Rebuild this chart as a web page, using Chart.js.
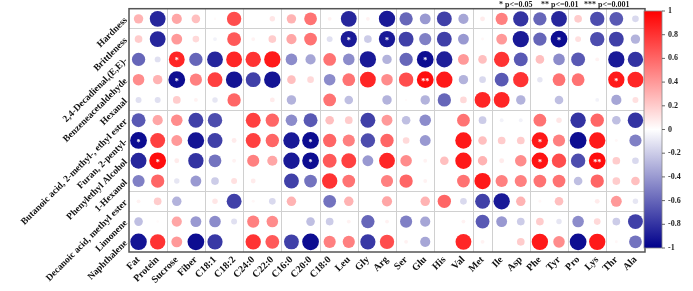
<!DOCTYPE html>
<html>
<head>
<meta charset="utf-8">
<script src="https://cdn.jsdelivr.net/npm/chart.js@4.4.0/dist/chart.umd.min.js"></script>
<style>
  html, body { margin: 0; padding: 0; background: #fff; }
  #wrap { width: 693px; height: 291px; }
</style>
</head>
<body>
<div id="wrap"><canvas id="corrChart"></canvas></div>
<script>
// Column (x) and row (y) labels
const colLabels = ['Fat', 'Protein', 'Sucrose', 'Fiber', 'C18:1', 'C18:2', 'C24:0', 'C22:0', 'C16:0', 'C20:0',
  'C18:0', 'Leu', 'Gly', 'Arg', 'Ser', 'Glu', 'His', 'Val', 'Met', 'Ile', 'Asp', 'Phe', 'Tyr', 'Pro', 'Lys', 'Thr', 'Ala'];
const rowLabels = ['Hardness', 'Brittleness', '2,4-Decadienal,(E,E)-', 'Benzeneacetaldehyde', 'Hexanal',
  'Butanoic acid, 2-methyl-, ethyl ester', 'Furan, 2-pentyl-', 'Phenylethyl Alcohol', '1-Hexanol',
  'Decanoic acid, methyl ester', 'Limonene', 'Naphthalene'];

// Correlation values, one array per row
const hardness = [0.3, -0.85, 0.35, 0.25, 0.02, 0.7, 0.0, 0.1, 0.3, 0.55, 0.05, -0.85, 0.05, -0.9, -0.6, -0.4, -0.75, -0.35, 0.08, 0.5, -0.8, -0.6, -0.85, 0.2, -0.7, -0.65, -0.15];
const brittleness = [0.2, -0.85, 0.4, 0.15, -0.05, 0.65, 0.05, 0.2, 0.35, 0.55, -0.12, -0.9, -0.2, -0.9, -0.75, -0.5, -0.75, -0.4, 0.03, 0.4, -0.9, -0.6, -0.95, 0.12, -0.7, -0.75, -0.3];
const decadienal = [-0.6, -0.12, 0.85, -0.6, -0.85, 0.85, 0.8, 0.9, -0.45, -0.35, 0.55, -0.45, -0.9, -0.3, -0.6, -0.95, -0.88, 0.4, 0.25, 0.8, -0.65, 0.25, -0.45, -0.65, 0.05, -0.9, -0.8];
const benzeneacetaldehyde = [0.45, 0.3, -0.95, 0.5, 0.75, -0.92, -0.75, -0.92, 0.25, 0.15, -0.45, 0.55, 0.85, 0.45, 0.7, 0.95, 0.9, -0.3, -0.15, -0.65, 0.8, -0.1, 0.55, 0.55, 0.0, 0.9, 0.85];
const hexanal = [-0.12, -0.12, 0.2, 0.05, -0.1, 0.6, 0.0, 0.08, -0.3, 0.0, 0.55, -0.25, 0.0, -0.3, 0.02, -0.3, -0.6, 0.15, 0.85, 0.85, -0.3, 0.0, -0.25, 0.0, -0.05, -0.35, 0.12];
const butanoicEster = [-0.65, 0.35, 0.45, -0.75, -0.7, 0.0, 0.75, 0.6, -0.45, -0.65, 0.25, 0.2, -0.75, 0.4, -0.25, -0.45, 0.0, 0.55, -0.2, -0.05, -0.05, 0.55, 0.1, -0.8, 0.6, -0.25, -0.8];
const pentylFuran = [-0.95, 0.75, 0.4, -0.92, -0.75, 0.08, 0.75, 0.6, -0.9, -0.95, 0.6, 0.5, -0.7, 0.6, 0.15, -0.4, 0.0, 0.9, 0.25, 0.2, 0.2, 0.9, 0.5, -0.95, 0.9, 0.03, -0.5];
const phenylethylAlcohol = [-0.85, 0.95, 0.08, -0.8, -0.55, 0.05, 0.5, 0.35, -0.9, -0.95, 0.65, 0.75, -0.4, 0.85, 0.45, 0.05, 0.25, 0.9, 0.3, 0.08, 0.45, 0.92, 0.7, -0.7, 0.95, 0.2, -0.15];
const hexanol = [-0.5, 0.6, -0.1, -0.4, -0.2, 0.12, 0.08, 0.0, -0.75, -0.55, 0.8, 0.55, 0.0, 0.5, 0.6, 0.05, 0.0, 0.55, 0.9, 0.5, 0.5, 0.55, 0.55, -0.25, 0.6, 0.2, 0.25];
const decanoicEster = [0.05, 0.2, -0.3, 0.0, 0.1, -0.75, 0.03, -0.15, 0.3, 0.0, -0.55, 0.3, 0.0, 0.35, 0.0, 0.3, 0.6, -0.15, -0.75, -0.9, 0.3, 0.03, 0.25, 0.0, 0.08, 0.4, -0.1];
const limonene = [-0.25, 0.02, 0.35, -0.4, -0.45, -0.12, 0.5, 0.45, 0.0, -0.25, -0.2, 0.05, -0.6, 0.05, -0.5, -0.35, 0.0, 0.05, -0.65, -0.4, -0.2, 0.2, -0.1, -0.45, 0.15, -0.2, -0.75];
const naphthalene = [-0.92, 0.8, 0.4, -0.95, -0.78, 0.0, 0.8, 0.65, -0.75, -0.95, 0.5, 0.5, -0.78, 0.7, 0.05, -0.35, 0.0, 0.85, 0.05, 0.0, 0.2, 0.9, 0.45, -0.95, 0.9, 0.03, -0.55];

const rows = [hardness, brittleness, decadienal, benzeneacetaldehyde, hexanal, butanoicEster,
  pentylFuran, phenylethylAlcohol, hexanol, decanoicEster, limonene, naphthalene];

// Significance marks: [row, col, stars]
const sigMarks = [[1, 11, '*'], [1, 13, '*'], [1, 22, '*'], [2, 2, '*'], [2, 15, '*'], [3, 2, '*'],
  [3, 15, '**'], [3, 25, '*'], [6, 0, '*'], [6, 9, '*'], [6, 21, '*'], [7, 1, '*'], [7, 9, '*'],
  [7, 21, '*'], [7, 24, '**']];

// Color bar ticks
const barTicks = [1, 0.8, 0.6, 0.4, 0.2, 0, -0.2, -0.4, -0.6, -0.8, -1];

// group separators (category index whose leading edge gets a line)
const xBreaks = [2, 4, 6, 8, 10, 12, 14, 16, 18, 19, 21, 23, 25];
const yBreaks = [1, 5, 9, 10];

const FONT = "'Liberation Serif', 'Times New Roman', serif";

function corrColor(v) {
  if (v >= 0) {
    const g = Math.round(255 * (1 - v));
    return `rgb(255,${g},${g})`;
  }
  const t = -v;
  const c = Math.round(255 * (1 - t));
  return `rgb(${c},${c},${Math.round(255 - 116 * t)})`;
}

const points = [];
rows.forEach((vals, r) => {
  vals.forEach((v, c) => {
    points.push({ x: colLabels[c], y: rowLabels[r], v: v });
  });
});

function cellRadius(ctx) {
  const area = ctx.chart.chartArea;
  if (!area) return 0;
  const cw = (area.right - area.left) / colLabels.length;
  const ch = (area.bottom - area.top) / rowLabels.length;
  const v = ctx.raw ? ctx.raw.v : 0;
  return 0.45 * Math.min(cw, ch) * Math.sqrt(Math.abs(v));
}

const extrasPlugin = {
  id: 'extras',
  afterDatasetsDraw(chart) {
    const ctx = chart.ctx;
    const meta = chart.getDatasetMeta(0);
    ctx.save();
    ctx.fillStyle = '#fff';
    ctx.font = 'bold 8px ' + FONT;
    ctx.textAlign = 'center';
    ctx.textBaseline = 'middle';
    sigMarks.forEach(([r, c, s]) => {
      const el = meta.data[r * colLabels.length + c];
      ctx.fillText(s, el.x, el.y + 2);
    });
    ctx.restore();
  },
  afterDraw(chart) {
    const ctx = chart.ctx;
    const a = chart.chartArea;
    ctx.save();
    // frame
    ctx.strokeStyle = '#555';
    ctx.lineWidth = 1.5;
    ctx.strokeRect(a.left, a.top, a.right - a.left, a.bottom - a.top);

    // significance legend
    ctx.fillStyle = '#222';
    ctx.font = 'bold 8px ' + FONT;
    ctx.textBaseline = 'alphabetic';
    ctx.textAlign = 'left';
    ctx.fillText('* p<=0.05', 499, 7);
    ctx.fillText('** p<=0.01', 541, 7);
    ctx.fillText('*** p<=0.001', 584, 7);

    // color bar
    const bx = 644, bw = 18;
    const by = 11, bh = 237;
    const grad = ctx.createLinearGradient(0, by, 0, by + bh);
    grad.addColorStop(0, corrColor(1));
    grad.addColorStop(0.5, corrColor(0));
    grad.addColorStop(1, corrColor(-1));
    ctx.fillStyle = grad;
    ctx.fillRect(bx, by, bw, bh);
    ctx.strokeStyle = '#888';
    ctx.lineWidth = 0.8;
    ctx.strokeRect(bx, by, bw, bh);
    ctx.fillStyle = '#222';
    ctx.strokeStyle = '#444';
    ctx.font = 'bold 8px ' + FONT;
    ctx.textBaseline = 'middle';
    barTicks.forEach(t => {
      const y = by + (1 - t) / 2 * bh;
      ctx.beginPath();
      ctx.moveTo(bx + bw, y);
      ctx.lineTo(bx + bw + 3, y);
      ctx.stroke();
      ctx.fillText(String(t), bx + bw + 6, y);
    });
    ctx.restore();
  }
};

new Chart(document.getElementById('corrChart'), {
  type: 'scatter',
  data: {
    datasets: [{
      data: points,
      pointRadius: cellRadius,
      pointHoverRadius: cellRadius,
      pointBackgroundColor: ctx => corrColor(ctx.raw ? ctx.raw.v : 0),
      pointBorderWidth: 0,
      pointBorderColor: 'rgba(0,0,0,0)'
    }]
  },
  options: {
    responsive: true,
    maintainAspectRatio: false,
    animation: false,
    layout: { padding: { top: 8, right: 48, left: 0, bottom: 0 } },
    plugins: { legend: { display: false }, tooltip: { enabled: false } },
    scales: {
      x: {
        type: 'category',
        labels: colLabels,
        offset: true,
        border: { display: false },
        grid: {
          offset: true,
          drawTicks: false,
          lineWidth: 1,
          color: ctx => xBreaks.includes(ctx.index) ? '#d0d0d0' : 'rgba(0,0,0,0)'
        },
        ticks: {
          autoSkip: false,
          minRotation: 45,
          maxRotation: 45,
          padding: 2,
          color: '#111',
          font: { family: FONT, size: 10, weight: 'bold' }
        },
        afterFit: s => { s.height = 39; }
      },
      y: {
        type: 'category',
        labels: rowLabels,
        offset: true,
        border: { display: false },
        grid: {
          offset: true,
          drawTicks: false,
          lineWidth: 1,
          color: ctx => yBreaks.includes(ctx.index) ? '#d0d0d0' : 'rgba(0,0,0,0)'
        },
        ticks: {
          autoSkip: false,
          minRotation: 45,
          maxRotation: 45,
          padding: 3,
          color: '#111',
          font: { family: FONT, size: 9.5, weight: 'bold' }
        },
        afterFit: s => { s.width = 129; }
      }
    }
  },
  plugins: [extrasPlugin]
});
</script>
</body>
</html>
